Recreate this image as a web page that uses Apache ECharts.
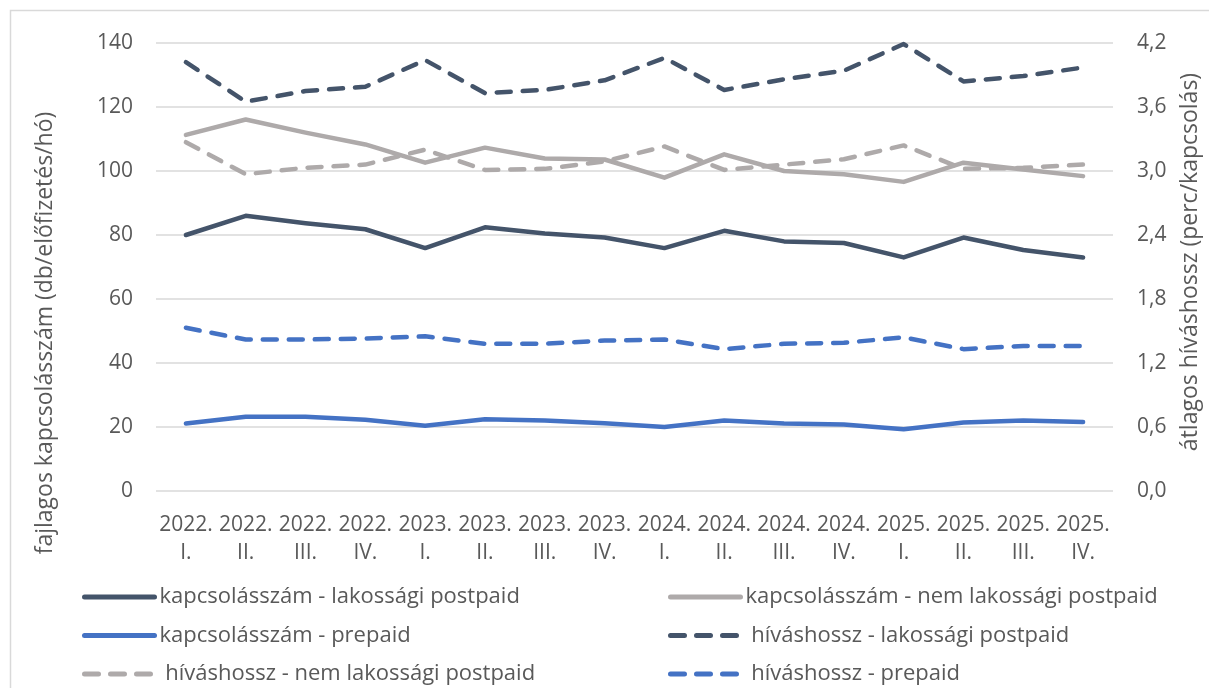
<!DOCTYPE html>
<html>
<head>
<meta charset="utf-8">
<script src="https://cdn.jsdelivr.net/npm/echarts@6/dist/echarts.min.js"></script>
<style>
html,body{margin:0;padding:0;background:#fff;}
#chart{width:1209px;height:688px;}
</style>
</head>
<body>
<div id="chart"></div>
<script>
const years = ['2022.','2022.','2022.','2022.','2023.','2023.','2023.','2023.','2024.','2024.','2024.','2024.','2025.','2025.','2025.','2025.'];
const quarters = ['I.','II.','III.','IV.','I.','II.','III.','IV.','I.','II.','III.','IV.','I.','II.','III.','IV.'];

const kapLak = [80.0, 86.0, 83.7, 81.8, 75.9, 82.4, 80.5, 79.2, 75.9, 81.3, 78.0, 77.5, 73.0, 79.2, 75.3, 73.0];
const kapNem = [111.3, 116.1, 112.0, 108.3, 102.6, 107.3, 103.9, 103.6, 97.9, 105.2, 100.0, 99.0, 96.6, 102.6, 100.5, 98.4];
const kapPre = [21.1, 23.2, 23.2, 22.3, 20.4, 22.4, 22.0, 21.2, 20.0, 22.0, 21.1, 20.8, 19.3, 21.4, 22.0, 21.6];
const hivLak = [4.02, 3.65, 3.75, 3.79, 4.04, 3.73, 3.76, 3.85, 4.06, 3.76, 3.86, 3.94, 4.19, 3.84, 3.89, 3.97];
const hivNem = [3.27, 2.97, 3.03, 3.06, 3.20, 3.01, 3.02, 3.09, 3.23, 3.01, 3.06, 3.11, 3.24, 3.02, 3.03, 3.06];
const hivPre = [1.53, 1.42, 1.42, 1.43, 1.45, 1.38, 1.38, 1.41, 1.42, 1.33, 1.38, 1.39, 1.44, 1.33, 1.36, 1.36];

const names = [
  'kapcsolásszám - lakossági postpaid',
  'kapcsolásszám - nem lakossági postpaid',
  'kapcsolásszám - prepaid',
  ' híváshossz - lakossági postpaid',
  ' híváshossz - nem lakossági postpaid',
  ' híváshossz - prepaid'
];
const leftTitle = 'fajlagos kapcsolásszám (db/előfizetés/hó)';
const rightTitle = 'átlagos híváshossz (perc/kapcsolás)';

const NAVY = '#44546A', GRAY = '#AEAAAA', BLUE = '#4472C4';
const TXT = '#595959';
const FONT = 'Open Sans';
const categories = years.map((y, i) => y + '\n' + quarters[i]);

function mk(name, data, color, dashed, axisIdx) {
  return {
    name: name, type: 'line', data: data, yAxisIndex: axisIdx,
    symbol: 'none', showSymbol: false, silent: true,
    lineStyle: { color: color, width: 4.5, type: dashed ? [14, 12] : 'solid', cap: 'round', join: 'round' },
    itemStyle: { color: color }
  };
}

const chart = echarts.init(document.getElementById('chart'), null, { renderer: 'canvas' });
const legendCommon = {
  orient: 'vertical', itemWidth: 70, itemHeight: 14, itemGap: 14.5, padding: 0,
  height: 110,
  textStyle: { color: TXT, fontSize: 22, fontFamily: FONT, lineHeight: 24 },
  lineStyle: { width: 5 },
  itemStyle: { opacity: 0, borderWidth: 0 },
  selectedMode: false
};
chart.setOption({
  animation: false,
  backgroundColor: '#fff',
  textStyle: { fontFamily: FONT },
  grid: { left: 156, right: 96, top: 43, bottom: 197, containLabel: false },
  graphic: [
    { type: 'rect', shape: { x: 10.5, y: 10.5, width: 1220, height: 700 }, style: { fill: null, stroke: '#D9D9D9', lineWidth: 1.5 }, silent: true },
    { type: 'text', x: 45, y: 333, rotation: Math.PI / 2, style: { text: leftTitle, fill: TXT, font: '23px "Open Sans"', align: 'center', verticalAlign: 'middle' } },
    { type: 'text', x: 1190, y: 262, rotation: Math.PI / 2, style: { text: rightTitle, fill: TXT, font: '23px "Open Sans"', align: 'center', verticalAlign: 'middle' } }
  ],
  legend: [
    Object.assign({}, legendCommon, { left: 82, top: 585, data: [names[0], names[2], names[4]] }),
    Object.assign({}, legendCommon, { left: 668, top: 585, data: [names[1], names[3], names[5]] })
  ],
  xAxis: {
    type: 'category', data: categories, boundaryGap: true,
    axisLine: { show: false }, axisTick: { show: false },
    axisLabel: { interval: 0, color: TXT, fontSize: 21, fontFamily: FONT, lineHeight: 28, margin: 20 }
  },
  yAxis: [
    {
      type: 'value', min: 0, max: 140, interval: 20, position: 'left',
      axisLine: { show: false }, axisTick: { show: false },
      axisLabel: { color: TXT, fontSize: 21, fontFamily: FONT, margin: 23 },
      splitLine: { lineStyle: { color: '#D9D9D9', width: 1.5 } }
    },
    {
      type: 'value', min: 0, max: 4.2, interval: 0.6, position: 'right',
      axisLine: { show: false }, axisTick: { show: false },
      axisLabel: { color: TXT, fontSize: 21, fontFamily: FONT, margin: 24, formatter: v => v.toFixed(1).replace('.', ',') },
      splitLine: { show: false }
    }
  ],
  series: [
    mk(names[0], kapLak, NAVY, false, 0),
    mk(names[1], kapNem, GRAY, false, 0),
    mk(names[2], kapPre, BLUE, false, 0),
    mk(names[3], hivLak, NAVY, true, 1),
    mk(names[4], hivNem, GRAY, true, 1),
    mk(names[5], hivPre, BLUE, true, 1)
  ]
});
</script>
</body>
</html>
